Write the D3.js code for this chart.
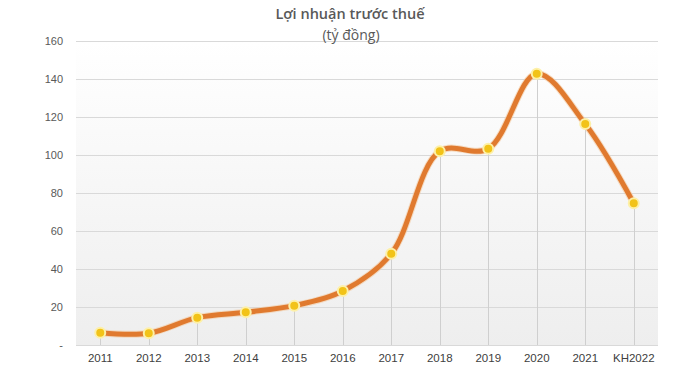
<!DOCTYPE html>
<html><head><meta charset="utf-8">
<script src="https://cdn.jsdelivr.net/npm/d3@7"></script>
<style>body{margin:0;background:#fff}svg{display:block}</style>
</head><body><svg id="c" width="693" height="377"></svg>
<script>
const categories = ["2011","2012","2013","2014","2015","2016","2017","2018","2019","2020","2021","KH2022"];
const values = [6.5, 6.2, 14.4, 17.2, 20.7, 28.4, 48, 102, 103.3, 142.8, 116.3, 74.6];
const yTicks = [0, 20, 40, 60, 80, 100, 120, 140, 160];
const title = "Lợi nhuận trước thuế";
const subtitle = "(tỷ đồng)";

const svg = d3.select("#c");
const m = {l: 76, r: 35, t: 41, b: 32};
const W = 693, H = 377;
const x = d3.scaleBand().domain(categories).range([m.l, W - m.r]);
const y = d3.scaleLinear().domain([0, 160]).range([H - m.b, m.t]);

const defs = svg.append("defs");
const g = defs.append("linearGradient").attr("id", "bg").attr("x1", 0).attr("y1", 0).attr("x2", 0).attr("y2", 1);
g.append("stop").attr("offset", "0%").attr("stop-color", "#ffffff");
g.append("stop").attr("offset", "100%").attr("stop-color", "#eeeeee");

svg.append("rect").attr("x", m.l).attr("y", y(160)).attr("width", W - m.r - m.l).attr("height", y(0) - y(160)).attr("fill", "url(#bg)");

// gridlines
svg.append("g").selectAll("line").data(yTicks).join("line")
  .attr("x1", m.l).attr("x2", W - m.r)
  .attr("y1", d => Math.round(y(d)) + 0.5).attr("y2", d => Math.round(y(d)) + 0.5)
  .attr("stroke", "#d9d9d9").attr("stroke-width", 1);

// y labels
svg.append("g").selectAll("text").data(yTicks).join("text")
  .attr("x", 63).attr("y", d => y(d) + 4)
  .attr("text-anchor", "end")
  .attr("font-family", "Liberation Sans, Arial, sans-serif").attr("font-size", 11)
  .attr("fill", "#595959")
  .text(d => d === 0 ? "-" : d);

// x labels
svg.append("g").selectAll("text").data(categories).join("text")
  .attr("x", d => x(d) + x.bandwidth() / 2).attr("y", 362)
  .attr("text-anchor", "middle")
  .attr("font-family", "Liberation Sans, Arial, sans-serif").attr("font-size", 11.5)
  .attr("fill", "#404040")
  .text(d => d);

const pts = categories.map((c, i) => [x(c) + x.bandwidth() / 2, y(values[i])]);

// drop lines
svg.append("g").selectAll("line").data(pts).join("line")
  .attr("x1", d => Math.round(d[0]) + 0.5).attr("x2", d => Math.round(d[0]) + 0.5)
  .attr("y1", d => d[1]).attr("y2", y(0))
  .attr("stroke", "#cfcfcf").attr("stroke-width", 1);

const line = d3.line().curve(d3.curveCatmullRom.alpha(0.5));
svg.append("path").attr("d", line(pts)).attr("fill", "none")
  .attr("stroke", "#f3c9a0").attr("stroke-width", 7).attr("stroke-linecap", "round").attr("opacity", 0.6);
svg.append("path").attr("d", line(pts)).attr("fill", "none")
  .attr("stroke", "#e07a2f").attr("stroke-width", 5).attr("stroke-linecap", "round");

svg.append("g").selectAll("circle").data(pts).join("circle")
  .attr("cx", d => d[0]).attr("cy", d => d[1]).attr("r", 5)
  .attr("fill", "#f2c318").attr("stroke", "#fdf0a8").attr("stroke-width", 2);

svg.append("text").attr("x", 350).attr("y", 19).attr("text-anchor", "middle")
  .attr("font-family", "Open Sans, sans-serif").attr("font-size", 14.5).attr("font-weight", 600)
  .attr("fill", "#595959").text(title);
svg.append("text").attr("x", 351).attr("y", 40).attr("text-anchor", "middle")
  .attr("font-family", "Open Sans, sans-serif").attr("font-size", 14)
  .attr("fill", "#595959").text(subtitle);
</script></body></html>
